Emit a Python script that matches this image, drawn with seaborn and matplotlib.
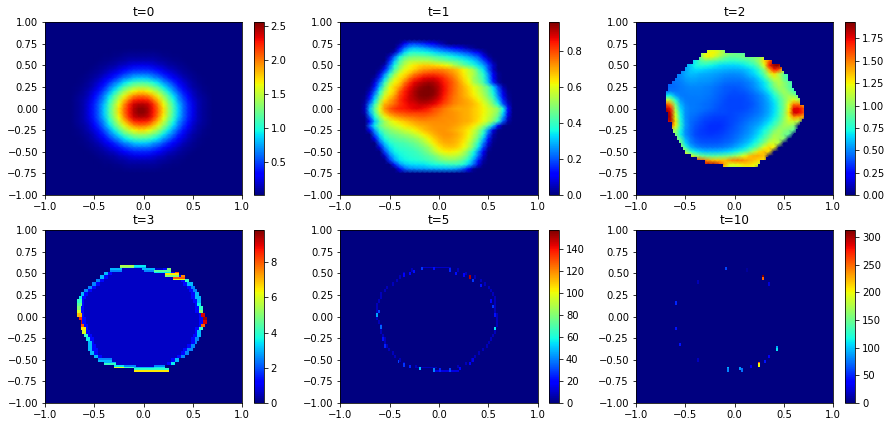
#!/usr/bin/env python3

import numpy as np
import matplotlib
matplotlib.use("Agg")
import matplotlib.pyplot as plt
from matplotlib.transforms import Affine2D
import seaborn as sns

TITLES = ['t=0', 't=1', 't=2', 't=3', 't=5', 't=10']
VMIN = [0.02, 0, 0, 0, 0, 0]
VMAX = [2.55, 0.96, 1.93, 9.8, 157, 312]
XTICKS = [-1.0, -0.5, 0.0, 0.5, 1.0]
YTICKS = [-1.0, -0.75, -0.5, -0.25, 0.0, 0.25, 0.5, 0.75, 1.0]

T0_QUARTER = [
    [2.52, 2.43, 2.25, 2.0, 1.72, 1.4, 1.12, .85, .61, .43, .26, .14, .085, .05],
    [2.43, 2.37, 2.2, 1.93, 1.65, 1.36, 1.08, .82, .6, .42, .25, .14, .08, .05],
    [2.25, 2.2, 2.0, 1.78, 1.52, 1.24, .98, .72, .54, .38, .22, .13, .08, .05],
    [2.0, 1.93, 1.78, 1.58, 1.36, 1.13, .88, .66, .47, .3, .18, .1, .07, .04],
    [1.72, 1.65, 1.52, 1.36, 1.15, .92, .72, .54, .38, .24, .15, .09, .05, .03],
    [1.4, 1.36, 1.24, 1.13, .92, .75, .61, .42, .28, .18, .1, .07, .04, .03],
    [1.12, 1.08, .98, .88, .72, .61, .46, .33, .22, .14, .09, .05, .03, .02],
    [.85, .82, .72, .66, .54, .42, .33, .24, .15, .1, .06, .04, .03, .02],
    [.61, .6, .54, .47, .38, .28, .22, .15, .1, .07, .05, .03, .02, .02],
    [.43, .42, .38, .3, .24, .18, .14, .1, .07, .05, .03, .02, .02, .02],
    [.26, .25, .22, .18, .15, .1, .09, .06, .05, .03, .02, .02, .02, .02],
    [.14, .14, .13, .1, .09, .07, .05, .04, .03, .02, .02, .02, .02, .02],
    [.085, .08, .08, .07, .05, .04, .03, .03, .02, .02, .02, .02, .02, .02],
    [.05, .05, .05, .04, .03, .03, .02, .02, .02, .02, .02, .02, .02, .02],
]

# (y, first x, values going right)
T1_ROWS = [
    (.75, -.40, [.02, .1, .17, .18, .17, .15, .13, .1, .06, .03]),
    (.70, -.40, [.1, .22, .28, .3, .29, .27, .25, .22, .2, .17, .15, .13, .1, .07, .04, .02]),
    (.65, -.45, [.05, .2, .32, .37, .38, .37, .36, .35, .33, .31, .29, .27, .25, .23, .2, .18, .14, .1, .04]),
    (.60, -.50, [.06, .22, .35, .42, .46, .47, .47, .46, .45, .43, .41, .39, .37, .35, .33, .31, .28, .24, .2, .12, .03]),
    (.55, -.50, [.15, .3, .42, .5, .54, .55, .55, .55, .54, .52, .5, .48, .46, .44, .42, .38, .35, .32, .27, .2, .1, .02]),
    (.50, -.55, [.05, .22, .36, .47, .55, .6, .63, .65, .66, .66, .65, .64, .62, .6, .55, .5, .46, .42, .38, .33, .28, .18, .07]),
    (.45, -.60, [.02, .14, .28, .42, .52, .6, .63, .66, .7, .72, .73, .74, .74, .73, .71, .69, .66, .62, .57, .52, .42, .34, .2, .06]),
    (.40, -.60, [.08, .24, .38, .5, .6, .64, .68, .74, .77, .8, .81, .81, .8, .78, .75, .72, .68, .63, .58, .54, .45, .38, .26, .1, .02]),
    (.35, -.65, [.03, .16, .32, .46, .58, .64, .68, .76, .81, .85, .87, .88, .88, .86, .83, .79, .75, .7, .65, .6, .52, .47, .4, .28, .12, .02]),
    (.30, -.65, [.08, .24, .4, .54, .62, .66, .75, .82, .87, .9, .92, .93, .92, .89, .85, .81, .77, .72, .67, .62, .54, .49, .42, .3, .15, .03]),
    (.25, -.70, [.02, .14, .3, .46, .6, .66, .71, .8, .86, .9, .93, .95, .96, .94, .91, .86, .81, .77, .73, .69, .65, .6, .56, .5, .44, .32, .18, .04]),
    (.20, -.70, [.05, .2, .37, .53, .62, .67, .77, .84, .88, .92, .95, .96, .96, .95, .91, .86, .81, .77, .73, .7, .66, .62, .57, .52, .45, .35, .22, .08, .01]),
    (.15, -.75, [.01, .1, .27, .43, .58, .65, .71, .8, .85, .89, .92, .95, .96, .96, .94, .9, .85, .8, .76, .73, .7, .67, .63, .59, .54, .47, .38, .25, .1, .02]),
    (.10, -.75, [.02, .16, .33, .5, .64, .7, .75, .82, .86, .89, .91, .93, .94, .93, .91, .87, .83, .79, .75, .73, .71, .69, .66, .62, .57, .51, .43, .3, .15, .03, 0]),
    (.05, -.75, [.04, .24, .4, .56, .69, .73, .77, .82, .85, .87, .88, .9, .9, .89, .87, .84, .8, .77, .74, .72, .71, .7, .68, .65, .6, .55, .47, .36, .2, .06, 0]),
    (.00, -.75, [.05, .3, .45, .6, .72, .78, .82, .84, .85, .86, .87, .87, .86, .84, .8, .78, .75, .73, .71, .7, .7, .69, .67, .65, .62, .58, .54, .5, .36, .13, 0]),
    (-.05, -.75, [.04, .28, .42, .57, .68, .74, .77, .79, .8, .81, .81, .81, .81, .8, .78, .76, .74, .73, .72, .71, .7, .69, .67, .65, .62, .58, .54, .48, .33, .1, 0]),
    (-.10, -.75, [.01, .2, .36, .5, .6, .66, .7, .72, .74, .75, .76, .77, .77, .76, .75, .74, .73, .73, .72, .71, .7, .69, .67, .65, .61, .57, .52, .44, .27, .07, 0]),
    (-.15, -.75, [0, .12, .3, .42, .52, .58, .62, .65, .67, .69, .71, .72, .73, .73, .73, .73, .73, .72, .72, .71, .7, .69, .67, .64, .6, .55, .48, .38, .2, .03]),
    (-.20, -.70, [.22, .35, .45, .51, .55, .58, .6, .63, .65, .67, .69, .7, .71, .72, .72, .72, .72, .71, .7, .68, .66, .63, .58, .52, .43, .3, .12, .01]),
    (-.25, -.70, [.1, .27, .39, .45, .49, .52, .54, .57, .59, .62, .65, .68, .7, .71, .72, .72, .71, .7, .68, .66, .63, .58, .51, .41, .26, .08, .01]),
    (-.30, -.65, [.2, .33, .41, .45, .47, .49, .51, .53, .56, .59, .63, .66, .69, .71, .72, .72, .71, .69, .66, .62, .56, .48, .37, .2, .04, 0]),
    (-.35, -.65, [.1, .27, .36, .41, .43, .45, .46, .48, .5, .53, .57, .62, .66, .69, .71, .71, .7, .68, .65, .6, .53, .44, .31, .14, .02]),
    (-.40, -.60, [.2, .31, .37, .4, .41, .42, .44, .46, .49, .53, .58, .63, .67, .69, .7, .69, .67, .63, .57, .49, .38, .24, .08, .01]),
    (-.45, -.60, [.08, .25, .33, .37, .39, .4, .41, .43, .45, .48, .52, .58, .63, .66, .67, .67, .65, .61, .55, .46, .34, .18, .04]),
    (-.50, -.55, [.18, .29, .35, .37, .38, .39, .4, .42, .45, .49, .54, .59, .62, .63, .62, .6, .55, .47, .37, .25, .1, .01]),
    (-.55, -.55, [.06, .23, .31, .35, .37, .38, .39, .4, .42, .44, .47, .51, .54, .56, .56, .54, .5, .43, .34, .22, .07]),
    (-.60, -.50, [.16, .27, .33, .35, .36, .37, .38, .39, .41, .43, .46, .48, .49, .49, .47, .43, .36, .27, .14, .03]),
    (-.65, -.45, [.14, .25, .3, .32, .33, .33, .34, .35, .36, .37, .38, .39, .4, .39, .37, .31, .22, .08, .01]),
    (-.70, -.40, [.1, .2, .24, .25, .26, .26, .27, .27, .28, .28, .28, .27, .25, .2, .11, .02]),
]

T2_ROWS = [
    (.70, -.30, [1.0, 1.15, 1.15, 1.1, .9, .6]),
    (.65, -.40, [.7, 1.0, 1.2, 1.25, 1.25, 1.15, 1.05, 1.0, .95, .9, .85]),
    (.60, -.45, [.6, .7, .95, 1.2, 1.25, 1.15, 1.05, .95, .9, .9, .92, .95, .95, .98, 1.0, 1.15, 1.3, 1.5]),
    (.55, -.50, [.55, .6, .7, .85, .92, .9, .87, .83, .8, .78, .78, .8, .82, .86, .92, 1.05, 1.3, 1.55, 1.8, 1.85, 1.85]),
    (.50, -.55, [.5, .55, .62, .72, .76, .75, .72, .7, .67, .65, .65, .65, .67, .7, .74, .8, .95, 1.2, 1.7, 1.9, 1.9, 1.7, 1.2]),
    (.45, -.60, [.48, .5, .55, .62, .66, .66, .64, .62, .6, .59, .58, .57, .57, .58, .6, .64, .7, .8, 1.0, 1.4, 1.7, 1.6, 1.2, .9]),
    (.40, -.65, [.45, .48, .5, .56, .6, .6, .58, .57, .56, .55, .53, .52, .51, .51, .52, .55, .6, .65, .74, .9, 1.15, 1.3, 1.1, .9, .8]),
    (.35, -.70, [.42, .45, .47, .5, .54, .56, .56, .55, .54, .53, .52, .5, .48, .47, .47, .48, .5, .54, .58, .66, .78, .98, 1.15, 1.1, .9, .8]),
    (.30, -.70, [.42, .44, .46, .48, .51, .53, .53, .52, .52, .51, .49, .47, .45, .44, .44, .44, .46, .49, .53, .6, .68, .82, 1.0, 1.1, 1.0, .9, .8]),
    (.25, -.75, [.4, .42, .44, .45, .47, .49, .5, .5, .5, .49, .48, .46, .44, .42, .41, .41, .42, .44, .47, .52, .58, .66, .78, .95, 1.05, 1.0, .9, .8]),
    (.20, -.75, [.42, .45, .47, .46, .47, .48, .49, .49, .49, .48, .47, .45, .43, .41, .4, .39, .4, .41, .44, .48, .53, .6, .7, .84, .98, 1.05, .95, .85, .8]),
    (.15, -.75, [.6, .7, .7, .55, .48, .47, .48, .48, .48, .47, .46, .44, .42, .4, .38, .38, .38, .39, .41, .44, .48, .54, .62, .74, .88, 1.0, 1.05, 1.0, .9]),
    (.10, -.75, [1.0, 1.15, 1.05, .75, .53, .48, .47, .47, .47, .46, .45, .43, .41, .39, .37, .37, .37, .38, .4, .43, .47, .52, .59, .69, .82, .95, 1.1, 1.2, 1.1, 1.0]),
    (.05, -.75, [1.3, 1.6, 1.45, .95, .6, .5, .47, .47, .46, .45, .44, .42, .4, .38, .37, .37, .37, .38, .39, .42, .46, .51, .57, .66, .8, .95, 1.2, 1.5, 1.5, 1.4]),
    (.00, -.75, [1.6, 1.85, 1.7, 1.05, .65, .52, .48, .47, .46, .45, .43, .41, .39, .38, .37, .37, .37, .38, .4, .43, .46, .51, .57, .66, .78, .95, 1.25, 1.75, 1.75, 1.6]),
    (-.05, -.75, [1.8, 1.93, 1.8, 1.15, .7, .52, .47, .46, .44, .42, .4, .39, .38, .38, .37, .38, .39, .4, .42, .44, .47, .52, .58, .67, .8, .98, 1.3, 1.8, 1.75, 1.6]),
    (-.10, -.75, [1.7, 1.9, 1.85, 1.2, .72, .52, .46, .44, .41, .39, .37, .36, .36, .36, .37, .38, .4, .42, .44, .47, .5, .55, .61, .7, .82, 1.0, 1.2, 1.45, 1.4, 1.4]),
    (-.15, -.75, [1.5, 1.7, 1.85, 1.3, .75, .53, .45, .42, .39, .36, .35, .34, .34, .35, .37, .39, .41, .44, .47, .5, .53, .59, .66, .76, .88, 1.02, 1.15, 1.15, 1.1]),
    (-.20, -.70, [1.3, 1.6, 1.25, .78, .54, .45, .4, .37, .35, .33, .33, .33, .35, .37, .4, .43, .46, .5, .53, .58, .65, .73, .83, .95, 1.05, 1.05, 1.0]),
    (-.25, -.70, [1.0, 1.1, 1.05, .72, .52, .44, .39, .36, .34, .33, .33, .34, .36, .39, .41, .44, .48, .52, .57, .64, .72, .82, .95, 1.05, 1.0, .95, .9]),
    (-.30, -.65, [1.0, 1.0, .7, .52, .44, .38, .36, .35, .34, .35, .36, .38, .4, .43, .46, .5, .54, .6, .68, .78, .9, 1.05, 1.05, .95, .9]),
    (-.35, -.65, [.9, 1.0, .85, .58, .47, .41, .38, .37, .37, .37, .38, .4, .42, .45, .49, .53, .58, .65, .74, .86, 1.0, 1.1, 1.05, 1.0]),
    (-.40, -.60, [1.0, .95, .65, .5, .44, .41, .4, .4, .4, .41, .43, .45, .49, .53, .58, .64, .72, .83, .98, 1.15, 1.15, 1.1]),
    (-.45, -.60, [1.05, 1.05, .8, .6, .52, .48, .46, .46, .46, .47, .49, .52, .56, .61, .67, .75, .85, 1.0, 1.2, 1.3, 1.25]),
    (-.50, -.55, [1.15, 1.05, .8, .7, .64, .6, .6, .6, .61, .63, .66, .7, .76, .84, .95, 1.12, 1.3, 1.35, 1.3]),
    (-.55, -.55, [1.3, 1.3, 1.2, 1.05, .95, .9, .88, .88, .9, .92, .96, 1.02, 1.1, 1.22, 1.35, 1.4, 1.4, 1.35]),
    (-.60, -.50, [1.4, 1.6, 1.65, 1.6, 1.5, 1.4, 1.35, 1.35, 1.35, 1.45, 1.5, 1.5, 1.45, 1.4, 1.35, 1.3, 1.3]),
    (-.65, -.35, [1.7, 1.8, 1.85, 1.85, 1.65, 1.4, 1.2, 1.2, 1.25, 1.3, 1.3, 1.25, 1.15]),
    (-.70, -.25, [1.6, 1.6, 1.4, 1.2, 1.1, 1.05, 1.1, 1.15, 1.2, 1.2]),
]

# t=2 outline per row of 0.04 height, starting at row 8 from the top
T2_FIRST_ROW = 8
T2_LEFT = [-.27, -.33, -.37, -.42, -.47, -.50, -.54, -.58, -.60, -.63, -.67, -.69, -.70, -.71, -.71, -.71, -.70,
           -.70, -.69, -.68, -.67, -.65, -.64, -.62, -.60, -.58, -.56, -.54, -.52, -.50, -.45, -.38, -.30, -.12]
T2_RIGHT = [-.12, .08, .28, .37, .43, .46, .49, .51, .53, .55, .57, .59, .61, .62, .63, .65, .67,
            .67, .67, .67, .66, .64, .62, .60, .58, .55, .52, .49, .46, .43, .38, .30, .25, .22]

# t=3: outline per row of 0.04 height, starting at row 10 from the top
T3_FIRST_ROW = 10
T3_LEFT = [-.24, -.34, -.40, -.44, -.48, -.52, -.56, -.60, -.64, -.66, -.67, -.67, -.68, -.68, -.67, -.66,
           -.65, -.64, -.63, -.62, -.60, -.58, -.57, -.56, -.55, -.53, -.50, -.46, -.40, -.30, -.10]
T3_RIGHT = [.0, .26, .34, .40, .44, .47, .50, .52, .54, .55, .56, .57, .58, .59, .61, .62,
            .62, .61, .59, .57, .56, .54, .53, .50, .47, .44, .40, .34, .30, .20, .25]
T3_LEFT_VAL = [6, 3, 3, 3, 2.5, 2.5, 2.5, 2.5, 3, 3.5, 4, 4.5, 5, 6, 7, 8.5,
               9, 8, 6.5, 6, 4, 3.5, 3, 3, 3, 3, 3, 3.5, 4, 5, 6]
T3_RIGHT_VAL = [3, 5, 8, 7.5, 4, 3, 2.5, 2.5, 3, 3, 3, 3.5, 4, 5, 9, 9.5,
                9, 8, 4, 3, 3, 2.5, 2.5, 2.5, 2.5, 2.5, 2.5, 3, 3.5, 4, 4]
T3_INSIDE = 0.6
T3_RIM = 1.3
# (row of 0.02 height, x from, x to, value)
T3_EDGE = [(20, -.24, -.1, 5.5), (21, -.24, -.1, 5), (20, -.1, 0, 3.5), (21, -.1, 0, 3), (22, -.34, -.24, 3),
           (23, -.34, -.24, 2.5), (22, -.02, .1, 3), (23, 0, .1, 2.5), (23, .1, .26, 4.5), (24, .1, .26, 3.5),
           (25, .22, .34, 6.5), (26, .22, .34, 5), (27, .3, .4, 8), (28, .3, .4, 6),
           (74, -.46, -.34, 2.5), (75, -.46, -.34, 3), (76, -.4, -.3, 3), (77, -.4, -.3, 4), (78, -.3, -.2, 3.5),
           (79, -.3, -.2, 6), (78, -.2, -.1, 2.5), (79, -.2, -.1, 4), (79, -.1, .1, 3), (78, .1, .2, 2.5),
           (79, .1, .2, 3.5), (80, -.1, .25, 4), (81, -.1, .25, 6.5)]

# t=5: faint ring with a few brighter cells
T5_FIRST_ROW = 11
T5_LEFT = [-.28, -.35, -.40, -.45, -.49, -.53, -.56, -.59, -.61, -.62, -.63, -.63, -.63, -.63, -.63,
           -.62, -.61, -.60, -.59, -.58, -.57, -.56, -.54, -.52, -.49, -.46, -.41, -.36, -.25]
T5_RIGHT = [.18, .26, .36, .42, .46, .50, .52, .54, .55, .55, .56, .57, .57, .58, .58,
            .58, .58, .57, .56, .54, .52, .50, .47, .44, .41, .37, .32, .26, .18]
T5_RING_VAL = 8
T5_EDGE = [(21, -.18, .1, 10), (79, -.25, -.05, 8), (81, -.05, .18, 14)]
# (x, y, value)
T5_SPOTS = [(.30, .48, 150), (-.63, .03, 45), (-.61, .08, 30), (.57, -.13, 55), (-.2, -.58, 50), (-.05, -.6, 40),
            (.0, -.61, 25), (.1, -.61, 30), (-.6, -.11, 35), (-.42, -.5, 30), (-.35, -.54, 28), (-.29, -.57, 25),
            (-.55, -.33, 25), (-.58, -.25, 22), (-.18, .56, 28), (-.05, .56, 22), (-.25, .53, 22), (-.3, .52, 20),
            (-.35, .5, 18), (.1, .54, 25), (.18, .52, 22), (.24, .5, 20), (.36, .44, 28), (.43, .38, 22),
            (.53, .2, 20), (.55, .13, 28), (.57, .03, 22), (.2, -.58, 18), (.3, -.53, 18), (.35, -.48, 15)]

T10_SPOTS = [(.28, .47, 310), (.29, .45, 250), (.24, -.53, 255), (.25, -.55, 200), (.42, -.35, 90), (.43, -.37, 110),
             (-.07, -.58, 95), (-.06, -.6, 80), (.05, -.58, 85), (.06, -.6, 75), (-.59, .17, 50), (-.59, -.13, 45),
             (-.55, -.3, 45), (-.1, .56, 60), (.3, -.5, 45), (.36, -.44, 35), (.18, -.57, 30), (.36, .4, 25),
             (-.38, .42, 15), (-.38, -.49, 18), (.12, .55, 8)]


def from_rows(rows):
    grid = np.zeros((41, 41))
    for y, x0, vals in rows:
        r = round((1 - y) / .05)
        c = round((x0 + 1) / .05)
        grid[r, c:c + len(vals)] = vals
    return grid


def paint_spans(grid, spans):
    for row, x0, x1, val in spans:
        grid[row, round((x0 + 1) / .02):round((x1 + 1) / .02) + 1] = val


def paint_spots(grid, spots):
    for x, y, val in spots:
        r, c = int((1 - y) / .02), int((x + 1) / .02)
        grid[r:r + 2, c] = val


def t0_grid():
    q = np.array(T0_QUARTER)
    blob = np.block([[q[::-1, ::-1], q[::-1, :]], [q[:, ::-1], q]])
    grid = np.full((41, 41), .02)
    grid[7:35, 6:34] = blob
    return grid


def t2_inside():
    inside = np.zeros((50, 100), dtype=bool)
    for i, (l, r) in enumerate(zip(T2_LEFT, T2_RIGHT)):
        inside[T2_FIRST_ROW + i, round((l + 1) / .02):round((r + 1) / .02) + 1] = True
    return inside


def t3_grid():
    grid = np.zeros((100, 100))
    for i, (l, r) in enumerate(zip(T3_LEFT, T3_RIGHT)):
        for row in (2 * (T3_FIRST_ROW + i), 2 * (T3_FIRST_ROW + i) + 1):
            paint_spans(grid, [(row, l, r, T3_INSIDE),
                               (row, l, l + .06, T3_RIM), (row, r - .06, r, T3_RIM),
                               (row, l, l + .02, T3_LEFT_VAL[i]), (row, r - .02, r, T3_RIGHT_VAL[i])])
    paint_spans(grid, T3_EDGE)
    return grid


def t5_grid():
    grid = np.zeros((100, 100))
    for i, (l, r) in enumerate(zip(T5_LEFT, T5_RIGHT)):
        for row in (2 * (T5_FIRST_ROW + i), 2 * (T5_FIRST_ROW + i) + 1):
            paint_spans(grid, [(row, l, l, T5_RING_VAL), (row, r, r, T5_RING_VAL)])
    paint_spans(grid, T5_EDGE)
    paint_spots(grid, T5_SPOTS)
    return grid


def t10_grid():
    grid = np.zeros((100, 100))
    paint_spots(grid, T10_SPOTS)
    return grid


def main():
    W, H = 890, 427
    fig = plt.figure(figsize=(W / 72, H / 72), dpi=72)

    grids = [t0_grid(), from_rows(T1_ROWS), from_rows(T2_ROWS), t3_grid(), t5_grid(), t10_grid()]
    smooth = [True, True, True, False, False, False]
    lefts = [45, 340.3, 636]
    cbar_lefts = [254, 549.3, 845.3]
    tops = [22.3, 230.3]

    for i, data in enumerate(grids):
        col, row = i % 3, i // 3
        ax = fig.add_axes([lefts[col] / W, 1 - (tops[row] + 172.7) / H, 197.3 / W, 172.7 / H])
        cax = fig.add_axes([cbar_lefts[col] / W, 1 - (tops[row] + 172.7) / H, 9.7 / W, 172.7 / H])
        kws = {'shading': 'gouraud'} if smooth[i] else {}
        sns.heatmap(data, ax=ax, cbar_ax=cax, cmap='jet', vmin=VMIN[i], vmax=VMAX[i],
                    xticklabels=False, yticklabels=False, **kws)

        if TITLES[i] == 't=2':
            # sharp outline: cover the smooth field outside it with the zero colour
            sns.heatmap(np.zeros((50, 100)), mask=t2_inside(), ax=ax, cbar=False, cmap='jet',
                        vmin=VMIN[i], vmax=VMAX[i], xticklabels=False, yticklabels=False)
            cover = ax.collections[-1]
            cover.set_transform(Affine2D().scale(40 / 100, 40 / 50) + ax.transData)

        ny, nx = data.shape
        if smooth[i]:
            nx, ny = nx - 1, ny - 1
        ax.set_xlim(0, nx)
        ax.set_ylim(ny, 0)
        ax.set_xticks([(v + 1) / 2 * nx for v in XTICKS])
        ax.set_xticklabels([f'{v:.1f}'.replace('-', '\u2212') for v in XTICKS])
        ax.set_yticks([(1 - v) / 2 * ny for v in YTICKS])
        ax.set_yticklabels([f'{v:.2f}'.replace('-', '\u2212') for v in YTICKS], rotation=0)
        ax.tick_params(length=3.5, width=0.8, labelsize=10)
        for spine in ax.spines.values():
            spine.set_visible(True)
            spine.set_linewidth(0.8)
        ax.set_title(TITLES[i])

        cb = ax.collections[0].colorbar
        cb.outline.set_linewidth(0.8)
        cb.ax.tick_params(length=3.5, width=0.8, labelsize=10)

    fig.savefig('out.png', dpi=72)


if __name__ == '__main__':
    main()
